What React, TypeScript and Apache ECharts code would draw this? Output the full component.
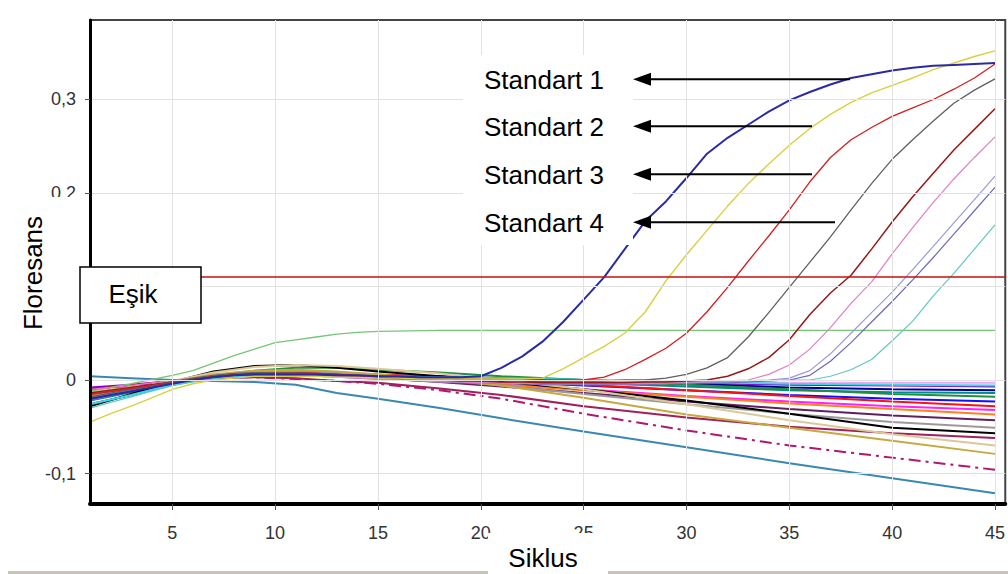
import React, { useEffect, useRef } from "react";
import * as echarts from "echarts";

// ---- Axis values ----
const CYCLES = [1, 2, 3, 4, 5, 6, 7, 8, 9, 10, 11, 12, 13, 14, 15, 16, 17, 18, 19, 20, 21, 22, 23, 24, 25, 26, 27, 28, 29, 30, 31, 32, 33, 34, 35, 36, 37, 38, 39, 40, 41, 42, 43, 44, 45];
const X_TICKS = [5, 10, 15, 20, 25, 30, 35, 40, 45];
const Y_TICKS = [-0.1, 0, 0.1, 0.2, 0.3];
const X_MIN = 1;
const X_MAX = 45.5;
const Y_MIN = -0.1326;
const Y_MAX = 0.385;
const THRESHOLD = 0.1134;

// ---- Amplification curves (one value per cycle) ----
const STD1 = [-0.02, -0.016, -0.012, -0.008, -0.004, 0.0, 0.003, 0.005, 0.006, 0.006, 0.006, 0.006, 0.005, 0.005, 0.004, 0.004, 0.003, 0.003, 0.003, 0.004, 0.013, 0.025, 0.041, 0.062, 0.086, 0.11, 0.14, 0.17, 0.191, 0.216, 0.242, 0.259, 0.273, 0.287, 0.299, 0.308, 0.316, 0.323, 0.327, 0.331, 0.334, 0.336, 0.337, 0.338, 0.339];
const STD2 = [-0.045, -0.036, -0.028, -0.019, -0.01, -0.004, 0.0, 0.002, 0.004, 0.004, 0.004, 0.004, 0.003, 0.003, 0.002, 0.002, 0.001, 0.001, 0.001, 0.001, 0.001, 0.001, 0.002, 0.012, 0.024, 0.036, 0.05, 0.073, 0.106, 0.134, 0.16, 0.186, 0.21, 0.231, 0.251, 0.269, 0.284, 0.297, 0.307, 0.315, 0.323, 0.332, 0.339, 0.346, 0.352];
const STD3 = [-0.015, -0.012, -0.009, -0.006, -0.003, 0.0, 0.003, 0.005, 0.006, 0.007, 0.007, 0.007, 0.006, 0.005, 0.004, 0.003, 0.002, 0.002, 0.001, 0.001, 0.001, 0.0, 0.0, 0.0, 0.0, 0.003, 0.011, 0.022, 0.034, 0.05, 0.073, 0.099, 0.127, 0.154, 0.182, 0.212, 0.238, 0.257, 0.27, 0.282, 0.291, 0.3, 0.311, 0.323, 0.338];
const STD4 = [-0.018, -0.014, -0.01, -0.006, -0.002, 0.002, 0.005, 0.007, 0.008, 0.008, 0.008, 0.007, 0.006, 0.005, 0.004, 0.003, 0.002, 0.002, 0.001, 0.001, 0.0, 0.0, 0.0, -0.001, -0.001, -0.001, 0.0, 0.0, 0.002, 0.006, 0.013, 0.024, 0.046, 0.072, 0.099, 0.126, 0.153, 0.182, 0.21, 0.236, 0.257, 0.277, 0.296, 0.31, 0.322];
const SAMPLE_MAROON = [-0.014, -0.011, -0.008, -0.005, -0.002, 0.001, 0.004, 0.006, 0.007, 0.007, 0.007, 0.006, 0.005, 0.004, 0.003, 0.002, 0.001, 0.0, -0.001, -0.001, -0.002, -0.002, -0.003, -0.003, -0.003, -0.003, -0.003, -0.002, -0.002, -0.001, 0.0, 0.004, 0.012, 0.024, 0.043, 0.07, 0.093, 0.112, 0.14, 0.169, 0.196, 0.221, 0.246, 0.268, 0.29];
const SAMPLE_PINK = [-0.01, -0.008, -0.006, -0.003, -0.001, 0.002, 0.004, 0.005, 0.006, 0.006, 0.005, 0.004, 0.003, 0.002, 0.001, 0.0, -0.001, -0.002, -0.002, -0.003, -0.003, -0.004, -0.004, -0.004, -0.004, -0.004, -0.004, -0.003, -0.003, -0.002, -0.002, -0.001, 0.0, 0.006, 0.016, 0.033, 0.056, 0.082, 0.105, 0.135, 0.163, 0.19, 0.215, 0.238, 0.26];
const SAMPLE_LILAC_A = [-0.02, -0.016, -0.011, -0.007, -0.003, 0.001, 0.004, 0.006, 0.007, 0.007, 0.006, 0.005, 0.004, 0.003, 0.002, 0.001, 0.0, -0.001, -0.002, -0.002, -0.003, -0.003, -0.004, -0.004, -0.004, -0.004, -0.004, -0.004, -0.003, -0.003, -0.002, -0.002, -0.001, 0.0, 0.002, 0.01, 0.028, 0.05, 0.072, 0.094, 0.118, 0.143, 0.168, 0.193, 0.218];
const SAMPLE_LILAC_B = [-0.022, -0.017, -0.012, -0.008, -0.004, 0.0, 0.003, 0.005, 0.006, 0.006, 0.005, 0.004, 0.003, 0.002, 0.001, 0.0, -0.001, -0.002, -0.003, -0.003, -0.004, -0.004, -0.005, -0.005, -0.005, -0.005, -0.005, -0.005, -0.004, -0.004, -0.003, -0.003, -0.002, -0.001, 0.0, 0.005, 0.02, 0.04, 0.062, 0.084, 0.107, 0.131, 0.156, 0.181, 0.206];
const SAMPLE_CYAN = [-0.03, -0.024, -0.018, -0.012, -0.006, -0.002, 0.002, 0.004, 0.005, 0.006, 0.006, 0.005, 0.005, 0.004, 0.004, 0.003, 0.003, 0.002, 0.002, 0.001, 0.001, 0.0, 0.0, -0.001, -0.001, -0.001, -0.002, -0.002, -0.002, -0.002, -0.002, -0.001, -0.001, -0.001, 0.0, 0.0, 0.004, 0.011, 0.022, 0.042, 0.063, 0.09, 0.114, 0.14, 0.166];

// ---- Plateau curve ----
const GREEN_CYCLES = [1, 3, 5, 6, 7, 8, 9, 10, 11, 12, 13, 14, 15, 18, 25, 45];
const GREEN = [-0.012, -0.004, 0.005, 0.01, 0.018, 0.026, 0.033, 0.04, 0.043, 0.046, 0.049, 0.051, 0.052, 0.053, 0.053, 0.053];

// ---- Negative / drifting baselines (read at these cycles) ----
const BASE_CYCLES = [1, 3, 5, 7, 9, 11, 13, 15, 18, 21, 25, 30, 35, 40, 45];
const B_LAVENDER = [-0.012, -0.007, -0.002, 0.003, 0.005, 0.005, 0.004, 0.003, 0.002, 0.001, 0.0, -0.002, -0.003, -0.003, -0.003];
const B_PURPLE = [-0.008, -0.005, -0.001, 0.004, 0.008, 0.008, 0.007, 0.005, 0.003, 0.001, -0.001, -0.003, -0.005, -0.006, -0.007];
const B_NAVY = [-0.016, -0.01, -0.003, 0.004, 0.007, 0.007, 0.006, 0.005, 0.004, 0.002, 0.0, -0.004, -0.008, -0.01, -0.011];
const B_TEAL = [-0.022, -0.013, -0.004, 0.003, 0.006, 0.007, 0.006, 0.004, 0.002, 0.0, -0.003, -0.007, -0.011, -0.013, -0.014];
const B_GREEN = [-0.018, -0.011, -0.003, 0.005, 0.01, 0.013, 0.013, 0.011, 0.008, 0.004, 0.0, -0.005, -0.01, -0.015, -0.018];
const B_BLUE = [-0.026, -0.016, -0.005, 0.003, 0.006, 0.007, 0.006, 0.004, 0.001, -0.002, -0.006, -0.011, -0.016, -0.02, -0.023];
const B_RED = [-0.01, -0.006, -0.001, 0.005, 0.008, 0.009, 0.008, 0.006, 0.003, 0.0, -0.005, -0.011, -0.017, -0.023, -0.028];
const B_MAGENTA = [-0.013, -0.008, -0.002, 0.003, 0.005, 0.005, 0.004, 0.002, -0.001, -0.005, -0.01, -0.017, -0.023, -0.028, -0.032];
const B_ORANGE = [-0.016, -0.01, -0.002, 0.004, 0.006, 0.006, 0.004, 0.002, -0.001, -0.005, -0.011, -0.018, -0.025, -0.031, -0.037];
const B_PLUM = [-0.02, -0.012, -0.003, 0.004, 0.007, 0.007, 0.005, 0.002, -0.002, -0.007, -0.014, -0.023, -0.031, -0.038, -0.043];
const B_GREY = [-0.018, -0.011, -0.003, 0.005, 0.009, 0.01, 0.008, 0.005, 0.0, -0.006, -0.015, -0.026, -0.036, -0.045, -0.051];
const B_BLACK = [-0.028, -0.015, -0.002, 0.009, 0.015, 0.016, 0.013, 0.009, 0.004, -0.002, -0.01, -0.022, -0.036, -0.051, -0.057];
const B_MAROON = [-0.015, -0.009, -0.003, 0.002, 0.003, 0.002, -0.001, -0.003, -0.009, -0.016, -0.028, -0.04, -0.05, -0.057, -0.062];
const B_LIGHTTAN = [-0.012, -0.007, -0.001, 0.008, 0.014, 0.016, 0.015, 0.012, 0.007, 0.0, -0.01, -0.026, -0.043, -0.058, -0.07];
const B_OLIVE = [-0.014, -0.008, -0.002, 0.006, 0.01, 0.011, 0.009, 0.006, 0.001, -0.006, -0.019, -0.037, -0.051, -0.065, -0.079];
const B_DASHED = [-0.01, -0.006, -0.001, 0.003, 0.003, 0.001, -0.001, -0.004, -0.011, -0.02, -0.036, -0.054, -0.07, -0.083, -0.096];
const B_TEALBLUE = [0.004, 0.002, 0.0, -0.001, -0.002, -0.005, -0.014, -0.02, -0.03, -0.041, -0.055, -0.072, -0.089, -0.105, -0.121];
const B_CYAN = [-0.026, -0.016, -0.005, 0.002, 0.005, 0.006, 0.005, 0.004, 0.003, 0.002, 0.0, -0.002, -0.004, -0.005, -0.006];

const STANDARD_LABELS = ["Standart 1", "Standart 2", "Standart 3", "Standart 4"];

const pair = (xs: number[], ys: number[]) => ys.map((v, i) => [xs[i], v]);

const baselineSeries = [
  { d: B_LAVENDER, c: "#f0a8f0" },
  { d: B_PURPLE, c: "#8a00d0" },
  { d: B_NAVY, c: "#000090" },
  { d: B_TEAL, c: "#008c8c" },
  { d: B_GREEN, c: "#209040" },
  { d: B_BLUE, c: "#1010ff" },
  { d: B_RED, c: "#ff1010" },
  { d: B_MAGENTA, c: "#ff20ff" },
  { d: B_ORANGE, c: "#ff8020" },
  { d: B_PLUM, c: "#602060" },
  { d: B_GREY, c: "#9a9a9a" },
  { d: B_BLACK, c: "#000000" },
  { d: B_MAROON, c: "#a0205a" },
  { d: B_LIGHTTAN, c: "#dcc898" },
  { d: B_OLIVE, c: "#c8a840" },
  { d: B_DASHED, c: "#b01870", dash: [12, 5, 3, 5] },
  { d: B_TEALBLUE, c: "#3a88b0" },
  { d: B_CYAN, c: "#40d8e0" },
];

const ampSeries = [
  { d: SAMPLE_CYAN, c: "#60c8c0", w: 1.2 },
  { d: SAMPLE_LILAC_B, c: "#6a6ab8", w: 1.2 },
  { d: SAMPLE_LILAC_A, c: "#9a9ad8", w: 1.2 },
  { d: SAMPLE_PINK, c: "#e080c0", w: 1.2 },
  { d: SAMPLE_MAROON, c: "#981818", w: 1.5 },
  { d: STD4, c: "#606060", w: 1.3 },
  { d: STD3, c: "#d02020", w: 1.3 },
  { d: STD2, c: "#d8d040", w: 1.4 },
  { d: STD1, c: "#2a2aa8", w: 2 },
];

const FONT = '"Liberation Sans", Arial, sans-serif';

function buildOption() {
  const series: any[] = [];
  // grid lines through the axes' own scales
  series.push({
    type: "line",
    data: [[X_MIN, 0]],
    silent: true,
    symbol: "none",
    lineStyle: { opacity: 0 },
    z: 1,
    markLine: {
      silent: true,
      symbol: ["none", "none"],
      label: { show: false },
      lineStyle: { color: "#e2e2e2", width: 1, type: "solid" },
      data: [...X_TICKS.map((v) => ({ xAxis: v })), ...Y_TICKS.map((v) => ({ yAxis: v }))],
    },
  });
  baselineSeries.forEach((s) => {
    series.push({
      type: "line",
      data: pair(BASE_CYCLES, s.d),
      symbol: "none",
      silent: true,
      z: 2,
      lineStyle: { color: s.c, width: 2, type: (s as any).dash || "solid" },
    });
  });
  series.push({
    type: "line",
    data: pair(GREEN_CYCLES, GREEN),
    symbol: "none",
    silent: true,
    z: 3,
    lineStyle: { color: "#78c478", width: 1.3 },
  });
  ampSeries.forEach((s) => {
    series.push({
      type: "line",
      data: pair(CYCLES, s.d),
      symbol: "none",
      silent: true,
      z: 3,
      lineStyle: { color: s.c, width: s.w },
    });
  });
  // threshold
  series.push({
    type: "line",
    data: [[X_MIN, THRESHOLD]],
    symbol: "none",
    silent: true,
    lineStyle: { opacity: 0 },
    z: 4,
    markLine: {
      silent: true,
      symbol: ["none", "none"],
      label: { show: false },
      lineStyle: { color: "#c41010", width: 1.6, type: "solid" },
      data: [{ yAxis: THRESHOLD }],
    },
  });

  const graphics: any[] = [];
  // Standart labels box
  graphics.push({ type: "rect", z: 100, shape: { x: 463, y: 55, width: 170, height: 190 }, style: { fill: "#fff" } });
  const labelY = [80, 127, 175, 223];
  const arrowEnd = [850, 812, 812, 835];
  STANDARD_LABELS.forEach((t, i) => {
    graphics.push({ type: "text", z: 101, x: 484, y: labelY[i], style: { text: t, font: `26px ${FONT}`, fill: "#000", align: "left", verticalAlign: "middle" } });
    const ay = labelY[i] - 0.7;
    graphics.push({ type: "line", z: 101, shape: { x1: 648, y1: ay, x2: arrowEnd[i], y2: ay }, style: { stroke: "#000", lineWidth: 2 } });
    graphics.push({ type: "polygon", z: 101, shape: { points: [[633, ay], [651, ay - 6.5], [651, ay + 6.5]] }, style: { fill: "#000" } });
  });
  // Floresans
  graphics.push({ type: "rect", z: 100, shape: { x: 0, y: 197, width: 87, height: 165 }, style: { fill: "#fff" } });
  graphics.push({ type: "text", z: 101, x: 33, y: 273, rotation: Math.PI / 2, style: { text: "Floresans", font: `26px ${FONT}`, fill: "#000", align: "center", verticalAlign: "middle" } });
  // Eşik box
  graphics.push({ type: "rect", z: 100, shape: { x: 80, y: 267, width: 121, height: 56 }, style: { fill: "#fff", stroke: "#000", lineWidth: 1.5 } });
  graphics.push({ type: "text", z: 101, x: 133, y: 294, style: { text: "Eşik", font: `26px ${FONT}`, fill: "#000", align: "center", verticalAlign: "middle" } });
  // bottom band and Siklus
  graphics.push({ type: "rect", z: 100, shape: { x: 8, y: 571, width: 480, height: 3 }, style: { fill: "#c8c4bc" } });
  graphics.push({ type: "rect", z: 100, shape: { x: 608, y: 571, width: 400, height: 3 }, style: { fill: "#c8c4bc" } });
  graphics.push({ type: "rect", z: 100, shape: { x: 488, y: 533, width: 120, height: 41 }, style: { fill: "#fff" } });
  graphics.push({ type: "text", z: 101, x: 543, y: 558, style: { text: "Siklus", font: `26px ${FONT}`, fill: "#000", align: "center", verticalAlign: "middle" } });

  return {
    animation: false,
    backgroundColor: "#fff",
    grid: { left: 90, right: 2, top: 20, bottom: 70, show: true, borderColor: "#444", borderWidth: 2, backgroundColor: "#fff" },
    xAxis: {
      type: "value",
      min: X_MIN,
      max: X_MAX,
      z: 10,
      axisLine: { show: true, onZero: false, lineStyle: { color: "#000", width: 4 } },
      axisTick: { show: true, customValues: X_TICKS, length: 6, lineStyle: { color: "#555", width: 1 } },
      axisLabel: { customValues: X_TICKS, margin: 20, fontSize: 18, color: "#333", fontFamily: FONT },
      splitLine: { show: false },
    },
    yAxis: {
      type: "value",
      min: Y_MIN,
      max: Y_MAX,
      z: 10,
      axisLine: { show: true, onZero: false, lineStyle: { color: "#000", width: 3 } },
      axisTick: { show: true, customValues: Y_TICKS, length: 5, lineStyle: { color: "#555", width: 1 } },
      axisLabel: {
        customValues: Y_TICKS,
        margin: 14,
        fontSize: 18,
        color: "#333",
        fontFamily: FONT,
        formatter: (v: number) => (Math.abs(v) < 1e-9 ? "0" : v.toFixed(1).replace(".", ",")),
      },
      splitLine: { show: false },
    },
    series,
    graphic: graphics,
  };
}

export default function App() {
  const ref = useRef<HTMLDivElement>(null);
  useEffect(() => {
    if (!ref.current) return;
    const chart = echarts.init(ref.current, undefined, { renderer: "svg" });
    chart.setOption(buildOption() as any);
    return () => chart.dispose();
  }, []);
  return <div ref={ref} style={{ position: "absolute", left: 0, top: 0, width: 1008, height: 574, background: "#fff" }} />;
}
